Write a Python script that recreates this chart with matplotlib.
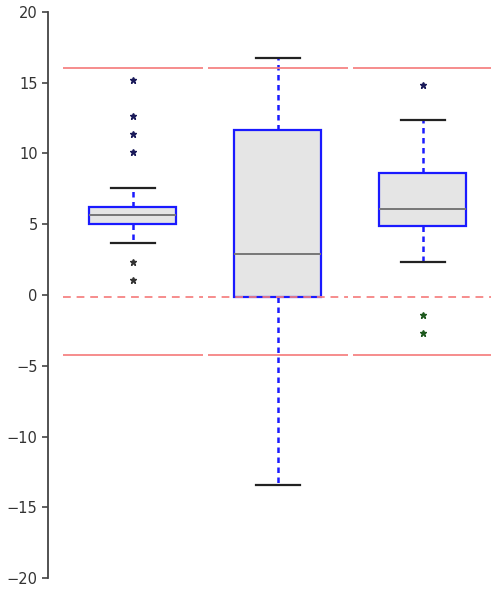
import matplotlib
matplotlib.use('Agg')
import matplotlib.pyplot as plt

# box statistics
positions = [1, 2, 3]
box_widths = [0.6, 0.6, 0.6]
q1 = [5.02, -0.14, 4.88]
med = [5.65, 2.90, 6.08]
q3 = [6.22, 11.66, 8.62]
whis_lo = [3.67, -13.43, 2.33]
whis_hi = [7.56, 16.75, 12.37]

# outliers above / below each box
fliers_hi = [[15.2, 12.65, 11.38, 10.1], [], [14.84]]
fliers_lo = [[2.33, 1.06], [], [-1.41, -2.69]]
flier_lo_colors = ['#333333', '#333333', '#1f5a1f']

# reference lines
ref_solid = [16.04, -4.24]
ref_dashed = [-0.14]

stats = []
for i in range(len(positions)):
    stats.append({'med': med[i], 'q1': q1[i], 'q3': q3[i],
                  'whislo': whis_lo[i], 'whishi': whis_hi[i], 'fliers': []})

fig = plt.figure(figsize=(4.91, 5.90), dpi=100)
ax = fig.add_axes([0.0978, 0.0203, 0.9022, 0.9594])

ax.bxp(stats, positions=positions, widths=box_widths, patch_artist=True,
       showfliers=False,
       boxprops=dict(facecolor='#e5e5e5', edgecolor='#1a1aff', linewidth=1.6),
       whiskerprops=dict(color='#1a1aff', linewidth=1.8, linestyle=(0, (2.2, 1.8))),
       capprops=dict(color='#222222', linewidth=1.6),
       medianprops=dict(color='#777777', linewidth=1.4),
       capwidths=0.3)

for p, vals in zip(positions, fliers_hi):
    ax.plot([p] * len(vals), vals, linestyle='none', marker='*',
            color='#1a1a5a', markersize=4.5)
for p, vals, c in zip(positions, fliers_lo, flier_lo_colors):
    ax.plot([p] * len(vals), vals, linestyle='none', marker='*',
            color=c, markersize=4.5)

for p in positions:
    for y in ref_solid:
        ax.hlines(y, p - 0.485, p + 0.485, color='#f58080', linewidth=1.4, alpha=0.9)
    for y in ref_dashed:
        ax.hlines(y, p - 0.485, p + 0.485, color='#f58080', linewidth=1.4,
                  alpha=0.9, linestyles=(0, (4, 3)))

ax.set_xlim(0.414, 3.47)
ax.set_ylim(-20, 20)
ax.set_yticks(range(-20, 21, 5))
ax.set_xticks([])
for s in ['top', 'right', 'bottom']:
    ax.spines[s].set_visible(False)
ax.spines['left'].set_color('#444444')
ax.spines['left'].set_linewidth(1.3)
ax.tick_params(axis='y', direction='out', length=4, width=1.2, color='#444444',
               labelsize=10.5, labelcolor='#333333')

fig.savefig('out.png', dpi=100)
